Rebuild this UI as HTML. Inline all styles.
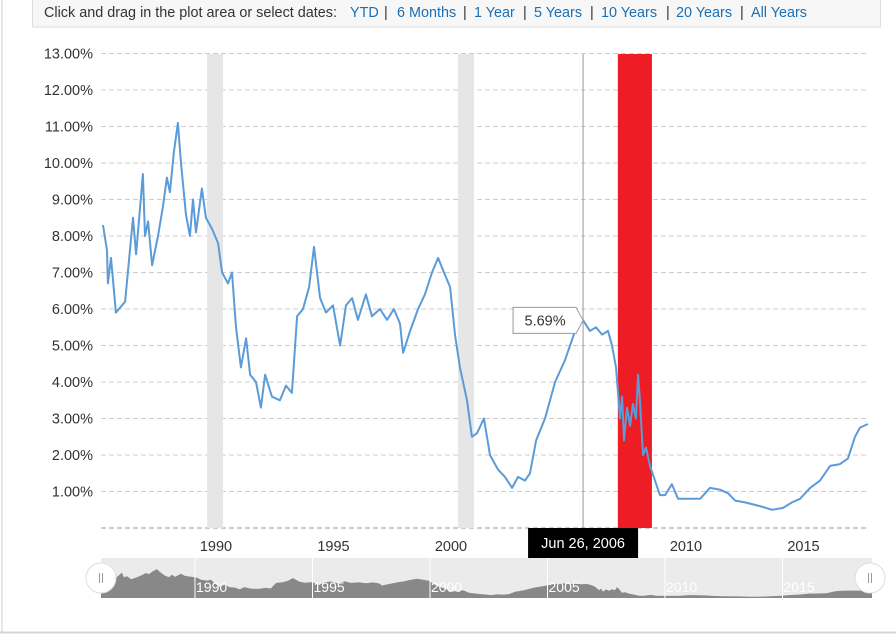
<!DOCTYPE html>
<html><head><meta charset="utf-8"><style>
body{margin:0;background:#fff;font-family:"Liberation Sans",sans-serif;}
svg text{font-family:"Liberation Sans",sans-serif;}
</style></head><body>
<svg id="chart" width="896" height="634" xmlns="http://www.w3.org/2000/svg">
<defs><clipPath id="navclip"><rect x="101" y="550" width="771" height="48"/></clipPath></defs>
<line x1="2" y1="0" x2="2" y2="632" stroke="#ccc"/>
<line x1="0" y1="632.5" x2="896" y2="632.5" stroke="#d8d4cf" stroke-width="2"/>
<g>
<rect x="32.5" y="-1" width="848" height="28" fill="#f7f7f7" stroke="#ddd"/>
<text x="44" y="17" font-size="14.4" fill="#333" textLength="293">Click and drag in the plot area or select dates:</text>
<text x="350" y="17" font-size="14.4" fill="#1a6fb5">YTD</text>
<text x="384" y="17" font-size="14.4" fill="#333">|</text>
<text x="397" y="17" font-size="14.4" fill="#1a6fb5">6 Months</text>
<text x="463" y="17" font-size="14.4" fill="#333">|</text>
<text x="474" y="17" font-size="14.4" fill="#1a6fb5">1 Year</text>
<text x="523" y="17" font-size="14.4" fill="#333">|</text>
<text x="534" y="17" font-size="14.4" fill="#1a6fb5">5 Years</text>
<text x="590" y="17" font-size="14.4" fill="#333">|</text>
<text x="601" y="17" font-size="14.4" fill="#1a6fb5">10 Years</text>
<text x="666" y="17" font-size="14.4" fill="#333">|</text>
<text x="676" y="17" font-size="14.4" fill="#1a6fb5">20 Years</text>
<text x="740" y="17" font-size="14.4" fill="#333">|</text>
<text x="751" y="17" font-size="14.4" fill="#1a6fb5">All Years</text>
</g>
<g id="grid"></g><g id="bands"></g><g id="yaxis"></g><g id="xaxis"></g><g id="series"></g>
<g id="nav"></g><g id="overlay"></g>
</svg>
<script>
const years=[1985.19,1985.36,1985.40,1985.53,1985.74,1986.13,1986.47,1986.60,1986.89,1986.98,1987.11,1987.28,1987.53,1987.74,1987.91,1988.04,1988.21,1988.38,1988.51,1988.72,1988.89,1989.02,1989.15,1989.40,1989.57,1989.83,1990.09,1990.26,1990.51,1990.68,1990.85,1991.06,1991.28,1991.45,1991.70,1991.91,1992.09,1992.38,1992.72,1992.98,1993.23,1993.45,1993.70,1993.96,1994.17,1994.43,1994.68,1994.98,1995.28,1995.53,1995.79,1996.04,1996.38,1996.64,1996.98,1997.28,1997.57,1997.83,1997.96,1998.26,1998.60,1998.89,1999.19,1999.45,1999.70,1999.96,2000.17,2000.38,2000.68,2000.89,2001.11,2001.40,2001.66,2002.00,2002.30,2002.60,2002.85,2003.15,2003.36,2003.62,2004.00,2004.43,2004.85,2005.28,2005.62,2005.91,2006.17,2006.43,2006.68,2006.85,2007.02,2007.19,2007.28,2007.36,2007.49,2007.62,2007.74,2007.87,2007.96,2008.04,2008.17,2008.30,2008.47,2008.68,2008.89,2009.11,2009.40,2009.66,2010.17,2010.60,2011.02,2011.45,2011.79,2012.09,2012.51,2013.15,2013.66,2014.13,2014.51,2014.85,2015.28,2015.70,2016.13,2016.55,2016.89,2017.19,2017.40,2017.74];
const rates=[8.3,7.6,6.7,7.4,5.9,6.2,8.5,7.5,9.7,8.0,8.4,7.2,8.0,8.8,9.6,9.2,10.3,11.1,10.0,8.6,8.0,9.0,8.1,9.3,8.5,8.2,7.8,7.0,6.7,7.0,5.5,4.4,5.2,4.2,4.0,3.3,4.2,3.6,3.5,3.9,3.7,5.8,6.0,6.6,7.7,6.3,5.9,6.1,5.0,6.1,6.3,5.7,6.4,5.8,6.0,5.7,6.0,5.6,4.8,5.4,6.0,6.4,7.0,7.4,7.0,6.6,5.3,4.4,3.5,2.5,2.6,3.0,2.0,1.6,1.4,1.1,1.4,1.3,1.5,2.4,3.0,4.0,4.6,5.4,5.69,5.4,5.5,5.3,5.4,5.0,4.4,3.0,3.6,2.4,3.3,2.8,3.4,3.0,4.2,3.5,2.0,2.2,1.7,1.3,0.9,0.9,1.2,0.8,0.8,0.8,1.1,1.05,0.95,0.75,0.7,0.6,0.5,0.55,0.7,0.8,1.1,1.3,1.7,1.75,1.9,2.5,2.75,2.85];
const yTicks=[1,2,3,4,5,6,7,8,9,10,11,12,13];
const xTicks=[1990,1995,2000,2010,2015];
const navTicks=[1990,1995,2000,2005,2010,2015];
const recessionStart=[1989.62,2000.30,2007.10];
const recessionEnd=[1990.30,2000.98,2008.55];
const recessionRed=[false,false,true];
const tipYear=2005.62, tipRate=5.69, tipLabel="Jun 26, 2006";

const NS="http://www.w3.org/2000/svg";
function mk(p,t,a){const e=document.createElementNS(NS,t);for(const k in a)e.setAttribute(k,a[k]);document.getElementById(p).appendChild(e);return e;}
const x=y=>216+(y-1990)*23.5;
const yv=v=>528-v*36.5;
const nx=y=>195+(y-1990)*23.5;
const ny=v=>598-v*2.6;
const L=101,R=868;

yTicks.forEach(t=>{
 const g=mk('grid','line',{x1:L,x2:R,y1:yv(t),y2:yv(t),stroke:'#ccc','stroke-dasharray':'5,3'});
 
 
 const tx=mk('yaxis','text',{x:93,y:yv(t)+5,'text-anchor':'end','font-size':14.5,fill:'#333'});
 tx.textContent=t.toFixed(2)+'%';
 
 
});
const base=mk('grid','line',{x1:L,x2:R,y1:528,y2:528,stroke:'#999','stroke-dasharray':'5,3'});



recessionStart.forEach((s,i)=>{
 const r=mk('bands','rect',{x:x(s),y:54,width:x(recessionEnd[i])-x(s),height:474,fill:recessionRed[i]?'#ee1c25':'#e6e6e6'});
 
 
});
xTicks.forEach(t=>{
 const tx=mk('xaxis','text',{x:x(t),y:551,'text-anchor':'middle','font-size':14.5,fill:'#333'});
 tx.textContent=t;
 
 
});
const pts=years.map((y,i)=>x(y).toFixed(1)+','+yv(rates[i]).toFixed(1)).join(' ');
const ln=mk('series','polyline',{points:pts,fill:'none',stroke:'#5a9bd8','stroke-width':2,'stroke-linejoin':'round'});



// navigator
const nb=mk('nav','rect',{x:101,y:558,width:771,height:40,fill:'#ebebeb'});


let ap=nx(years[0]).toFixed(1)+',598 '+years.map((y,i)=>nx(y).toFixed(1)+','+ny(rates[i]).toFixed(1)).join(' ')+' 872,'+ny(rates[rates.length-1]).toFixed(1)+' 872,598';
const na=mk('nav','polygon',{points:ap,fill:'#888','clip-path':'url(#navclip)'});


navTicks.forEach(t=>{
 const l=mk('nav','line',{x1:nx(t),x2:nx(t),y1:558,y2:598,stroke:'#fff','stroke-width':1});
 
 
 const tx=mk('nav','text',{x:nx(t)+1,y:592,'font-size':14,fill:'#fff'});
 tx.textContent=t;
 
 
});
[101,870].forEach((cx,i)=>{
 const c=mk('nav','circle',{cx:cx,cy:578,r:15,fill:'#fff',stroke:'#ddd'});
 
 
 mk('nav','line',{x1:cx-1.5,x2:cx-1.5,y1:573,y2:583,stroke:'#999'});
 mk('nav','line',{x1:cx+1.5,x2:cx+1.5,y1:573,y2:583,stroke:'#999'});
});

// crosshair + tooltip
const cx=x(tipYear), cy=yv(tipRate);
const ch=mk('overlay','line',{x1:cx,x2:cx,y1:54,y2:528,stroke:'#999'});


const tb=mk('overlay','path',{d:`M${cx-70},${cy-13} H${cx-7} L${cx},${cy} L${cx-7},${cy+13} H${cx-70} Z`,fill:'#fff',stroke:'#999'});


const tt=mk('overlay','text',{x:cx-38,y:cy+5,'text-anchor':'middle','font-size':14.5,fill:'#333'});
tt.textContent=tipRate.toFixed(2)+'%';


const db=mk('overlay','rect',{x:cx-55,y:528,width:110,height:30,fill:'#000'});


const dt=mk('overlay','text',{x:cx,y:548,'text-anchor':'middle','font-size':14.5,fill:'#fff'});
dt.textContent=tipLabel;


</script>
</body></html>
